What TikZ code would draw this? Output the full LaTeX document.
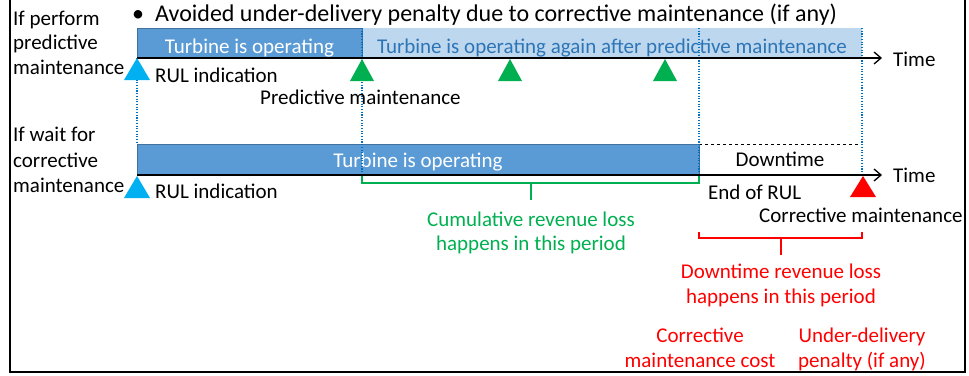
\documentclass[tikz,border=0pt]{standalone}
\usepackage{fontspec}
\setmainfont{Carlito}
\usetikzlibrary{arrows.meta}
\definecolor{darkbar}{HTML}{5B9BD5}
\definecolor{darkbarline}{HTML}{41719C}
\definecolor{lightbar}{HTML}{BDD7EE}
\definecolor{lighttext}{HTML}{2E75B6}
\definecolor{dotblue}{HTML}{0070C0}
\definecolor{cyantri}{HTML}{00B0F0}
\definecolor{greentri}{HTML}{00B050}
\definecolor{redtri}{HTML}{FF0000}
\tikzset{
  lbl/.style={inner sep=0pt, anchor=base west, font=\fontsize{21}{21}\selectfont},
  clbl/.style={inner sep=0pt, anchor=base, font=\fontsize{21}{21}\selectfont},
  dotv/.style={dotblue, line width=1.1pt, dash pattern=on 1.1pt off 1.6pt},
  axis/.style={line width=1.3pt, -{Straight Barb[length=7pt,width=12pt,line width=1.3pt]}},
}
\begin{document}
\begin{tikzpicture}[x=1pt,y=-1pt]
\useasboundingbox (0,0) rectangle (969,375);
% frame
\draw[line width=2.5pt] (10,0) -- (10,372) -- (965,372) -- (965,0);
% bullet title
\node[inner sep=0pt, anchor=base, font=\fontsize{24}{24}\selectfont] (bullet) at (138,21) {\textbullet};
\node[inner sep=0pt, anchor=base west, font=\fontsize{24}{24}\selectfont] (title) at (155,21) {Avoided under-delivery penalty due to corrective maintenance (if any)};
% left labels
\node[lbl] (p1) at (13,25) {If perform};
\node[lbl] (p2) at (13,49) {predictive};
\node[lbl] (p3) at (13,74) {maintenance};
\node[lbl] (c1) at (13,141) {If wait for};
\node[lbl] (c2) at (13,167) {corrective};
\node[lbl] (c3) at (13,192) {maintenance};
% top bars
\fill[lightbar] (362,28) rectangle (862,58);
\draw[darkbarline, fill=darkbar, line width=0.8pt] (137,28) rectangle (362,58);
\node[clbl, text=white] (top1) at (249.5,53) {Turbine is operating};
\node[clbl, text=lighttext] (top2) at (612,53) {Turbine is operating again after predictive maintenance};
% bottom bars
\draw[darkbarline, fill=darkbar, line width=0.8pt] (137,144) rectangle (699,175);
\draw[dashed, line width=0.8pt] (699,144) -- (862,144);
\node[clbl, text=white] (bot1) at (418,167) {Turbine is operating};
\node[clbl] (down) at (780,166) {Downtime};
% dotted verticals
\coordinate (d1t) at (137,58); \coordinate (d1b) at (137,144);
\coordinate (d2t) at (362,28); \coordinate (d2b) at (362,176);
\coordinate (d3t) at (699,28); \coordinate (d3b) at (699,175);
\coordinate (d4t) at (862,28); \coordinate (d4b) at (862,175);
\draw[dotv] (d1t) -- (d1b);
\draw[dotv] (d2t) -- (d2b);
\draw[dotv] (d3t) -- (d3b);
\draw[dotv] (d4t) -- (d4b);
% axes
\coordinate (a1s) at (137,58); \coordinate (a1e) at (882,58);
\coordinate (a2s) at (137,175); \coordinate (a2e) at (882,175);
\draw[axis] (a1s) -- (a1e);
\draw[axis] (a2s) -- (a2e);
\node[lbl] (time1) at (893,66) {Time};
\node[lbl] (time2) at (893,182) {Time};
% triangles
\fill[cyantri] (124,80) -- (137,58) -- (150,80) -- cycle;
\fill[cyantri] (124,198) -- (137,176) -- (150,198) -- cycle;
\fill[greentri] (350,81) -- (362,59) -- (374,81) -- cycle;
\fill[greentri] (498,81) -- (510,59) -- (522,81) -- cycle;
\fill[greentri] (653,81) -- (665,59) -- (677,81) -- cycle;
\fill[redtri] (850,197) -- (863,176) -- (876,197) -- cycle;
% labels near axes
\node[lbl] (rul1) at (155,82) {RUL indication};
\node[lbl] (pm) at (260,104) {Predictive maintenance};
\node[lbl] (rul2) at (155,198) {RUL indication};
\node[lbl] (eor) at (708,199) {End of RUL};
\node[lbl] (cm) at (759,222) {Corrective maintenance};
% green bracket
\coordinate (gb1) at (362,176); \coordinate (gb2) at (699,176);
\coordinate (gbm) at (531,183);
\draw[greentri, line width=1.2pt] (gb1) -- (362,183) -- (699,183) -- (gb2);
\draw[greentri, line width=1.2pt] (gbm) -- (531,200);
\node[clbl, text=greentri] (g1) at (531,226) {Cumulative revenue loss};
\node[clbl, text=greentri] (g2) at (531,250) {happens in this period};
% red bracket
\coordinate (rb1) at (699,232); \coordinate (rb2) at (862,232);
\coordinate (rbm) at (781,238);
\draw[redtri, line width=1.2pt] (rb1) -- (699,238) -- (862,238) -- (rb2);
\draw[redtri, line width=1.2pt] (rbm) -- (781,255);
\node[clbl, text=redtri] (r1) at (781,278) {Downtime revenue loss};
\node[clbl, text=redtri] (r2) at (781,303) {happens in this period};
\node[clbl, text=redtri] (r3) at (700,342) {Corrective};
\node[clbl, text=redtri] (r4) at (700,367) {maintenance cost};
\node[clbl, text=redtri] (r5) at (862,342) {Under-delivery};
\node[clbl, text=redtri] (r6) at (862,367) {penalty (if any)};
\end{tikzpicture}
\end{document}
